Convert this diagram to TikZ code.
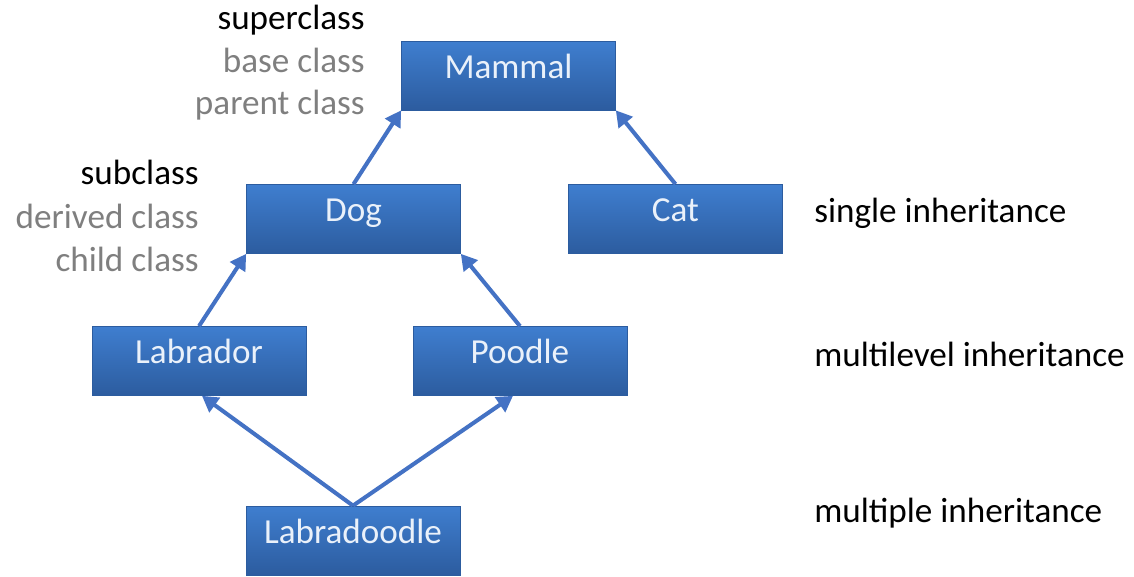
\documentclass[tikz,border=0pt]{standalone}
\usepackage{fontspec}
\setmainfont{Carlito}
\usetikzlibrary{arrows.meta}
\definecolor{boxtop}{HTML}{3F7ECF}
\definecolor{boxbot}{HTML}{2C5C9F}
\definecolor{boxtext}{HTML}{EAF1FA}
\definecolor{arrowblue}{HTML}{4472C4}
\definecolor{aliasgray}{HTML}{7F7F7F}
\tikzset{
  cls/.style={rectangle, top color=boxtop, bottom color=boxbot, draw=boxbot,
    line width=0.4pt, minimum width=4.28cm, minimum height=1.38cm,
    text=boxtext, font=\fontsize{20}{24}\selectfont,
    text height=13pt, text depth=10pt},
  inh/.style={arrowblue, line width=2.3pt,
    -{Triangle[length=9pt,width=10pt]}},
  term/.style={anchor=base east, inner sep=0pt, font=\fontsize{20}{24}\selectfont},
  kind/.style={anchor=base west, inner sep=0pt, font=\fontsize{20}{24}\selectfont}
}
\begin{document}
\begin{tikzpicture}[x=0.02cm, y=-0.02cm]
    \useasboundingbox (0, 0) rectangle (1134, 577);
    \node [cls] (mammal) at (508.5, 75.5) {Mammal};
    \node [cls] (dog) at (353.5, 219) {Dog};
    \node [cls] (cat) at (675.5, 219) {Cat};
    \node [cls] (labrador) at (199, 361) {Labrador};
    \node [cls] (poodle) at (520, 361) {Poodle};
    \node [cls] (labradoodle) at (353, 540.5) {Labradoodle};
    \draw [inh] (dog.north) -- (mammal.south west);
    \draw [inh] (cat.north) -- (mammal.south east);
    \draw [inh] (labrador.north) -- (dog.south west);
    \draw [inh] (poodle.north) -- (dog.south east);
    \draw [inh] (labradoodle.north) -- ([xshift=0.06cm]labrador.south);
    \draw [inh] (labradoodle.north) -- ([xshift=-0.14cm]poodle.south);
    \node [term] (super) at (365, 30) {superclass};
    \node [term, aliasgray] (base) at (365, 73) {base class};
    \node [term, aliasgray] (parent) at (365, 115) {parent class};
    \node [term] (sub) at (199, 185) {subclass};
    \node [term, aliasgray] (derived) at (199, 229) {derived class};
    \node [term, aliasgray] (child) at (199, 272) {child class};
    \node [kind] (single) at (814, 223) {single inheritance};
    \node [kind] (multilevel) at (814, 367) {multilevel inheritance};
    \node [kind] (multiple) at (814, 523) {multiple inheritance};
  \end{tikzpicture}
\end{document}
